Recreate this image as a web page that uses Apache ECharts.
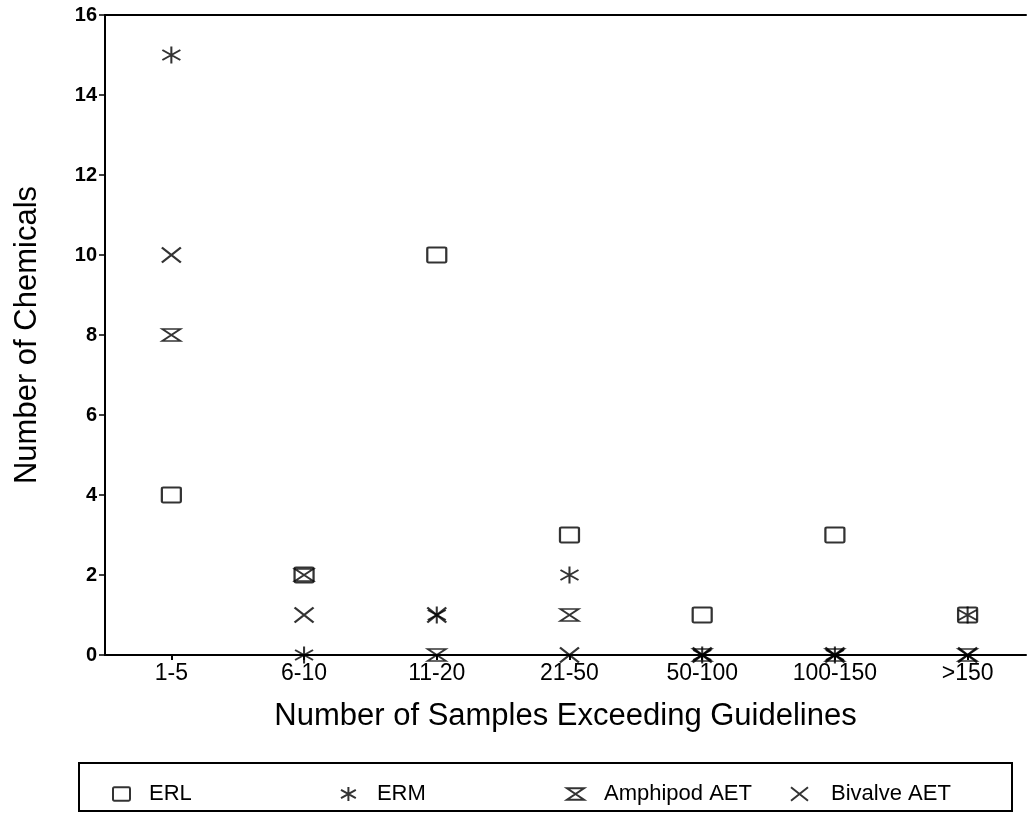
<!DOCTYPE html>
<html>
<head>
<meta charset="utf-8">
<script src="https://cdn.jsdelivr.net/npm/echarts@6/dist/echarts.min.js"></script>
<style>
  html, body { margin: 0; padding: 0; background: #fff; }
  #chart { width: 1031px; height: 814px; }
</style>
</head>
<body>
<div id="chart"></div>
<script>
// Sample-count classes on the x axis
const categories = ['1-5', '6-10', '11-20', '21-50', '50-100', '100-150', '>150'];

// Number of chemicals per class, one array per guideline
const erl         = [4, 2, 10, 3, 1, 3, 1];
const erm         = [15, 0, 1, 2, 0, 0, 1];
const amphipodAet = [8, 2, 0, 1, 0, 0, 0];
const bivalveAet  = [10, 1, 1, 0, 0, 0, 0];

const yMin = 0, yMax = 16, yStep = 2;
const seriesNames = ['ERL', 'ERM', 'Amphipod AET', 'Bivalve AET'];

// Outline marker shapes
const SYMBOLS = {
  square:    'path://M1.5,0 L17.5,0 Q19,0 19,1.5 L19,13.5 Q19,15 17.5,15 L1.5,15 Q0,15 0,13.5 L0,1.5 Q0,0 1.5,0 Z',
  asterisk:  'path://M9,0 L9,17 M0,3.5 L18,13.5 M0,13.5 L18,3.5',
  hourglass: 'path://M0,0 L18,0 L0,12 L18,12 Z',
  cross:     'path://M0,0 L19,15 M0,15 L19,0'
};

const FONT = '"Liberation Sans", Arial, Helvetica, sans-serif';
const tickIdx = categories.map((_, i) => i);

function pts(values) {
  return values.map((v, i) => [i, v]);
}

function markerSeries(name, values, symbol, size) {
  return {
    name: name,
    type: 'scatter',
    data: pts(values),
    symbol: symbol,
    symbolSize: size,
    itemStyle: { color: 'rgba(0,0,0,0)', borderColor: '#000', borderWidth: 2 },
    emphasis: { disabled: true },
    z: 5
  };
}

// One legend block per series so each entry sits at its own spot in the key box
function legendAt(name, left, textPad) {
  return {
    data: [name],
    left: left,
    top: 778,
    itemWidth: 17,
    itemHeight: 14,
    itemGap: 0,
    selectedMode: false,
    textStyle: { fontFamily: FONT, fontSize: 22, color: '#000', padding: [0, 0, 0, textPad] }
  };
}

const chart = echarts.init(document.getElementById('chart'), null, { renderer: 'canvas' });

chart.setOption({
  animation: false,
  backgroundColor: '#fff',
  grid: { left: 105, top: 15, right: 5, bottom: 159, containLabel: false },
  xAxis: [
    {
      type: 'value',
      min: -0.5,
      max: 6.44,
      splitLine: { show: false },
      axisLine: { onZero: false, lineStyle: { color: '#000', width: 2 } },
      axisTick: { show: true, customValues: tickIdx, length: 5, lineStyle: { color: '#000', width: 2 } },
      axisLabel: {
        customValues: tickIdx,
        formatter: v => categories[v],
        fontFamily: FONT, fontSize: 23, color: '#000', margin: 7
      },
      name: 'Number of Samples Exceeding Guidelines',
      nameLocation: 'middle',
      nameGap: 46,
      nameTextStyle: { fontFamily: FONT, fontSize: 31, color: '#000' }
    },
    {
      type: 'value',
      position: 'top',
      min: -0.5,
      max: 6.44,
      splitLine: { show: false },
      axisLine: { onZero: false, lineStyle: { color: '#000', width: 2 } },
      axisTick: { show: false },
      axisLabel: { show: false }
    }
  ],
  yAxis: {
    type: 'value',
    min: yMin,
    max: yMax,
    interval: yStep,
    splitLine: { show: false },
    axisLine: { onZero: false, lineStyle: { color: '#000', width: 2 } },
    axisTick: { length: 6, lineStyle: { color: '#000', width: 1.5 } },
    axisLabel: { fontFamily: FONT, fontSize: 20, fontWeight: 'bold', color: '#000', margin: 8 },
    name: 'Number of Chemicals',
    nameLocation: 'middle',
    nameGap: 62,
    nameTextStyle: { fontFamily: FONT, fontSize: 31, color: '#000' }
  },
  legend: [
    legendAt(seriesNames[0], 107, 14),
    legendAt(seriesNames[1], 335, 15),
    legendAt(seriesNames[2], 561, 15),
    legendAt(seriesNames[3], 785, 18)
  ],
  graphic: [
    {
      type: 'rect',
      shape: { x: 79, y: 763, width: 933, height: 48 },
      style: { fill: 'none', stroke: '#000', lineWidth: 2 },
      silent: true
    }
  ],
  series: [
    markerSeries(seriesNames[0], erl, SYMBOLS.square, [19, 15]),
    markerSeries(seriesNames[1], erm, SYMBOLS.asterisk, [18, 17]),
    markerSeries(seriesNames[2], amphipodAet, SYMBOLS.hourglass, [18, 12]),
    markerSeries(seriesNames[3], bivalveAet, SYMBOLS.cross, [19, 15])
  ]
});
</script>
</body>
</html>
